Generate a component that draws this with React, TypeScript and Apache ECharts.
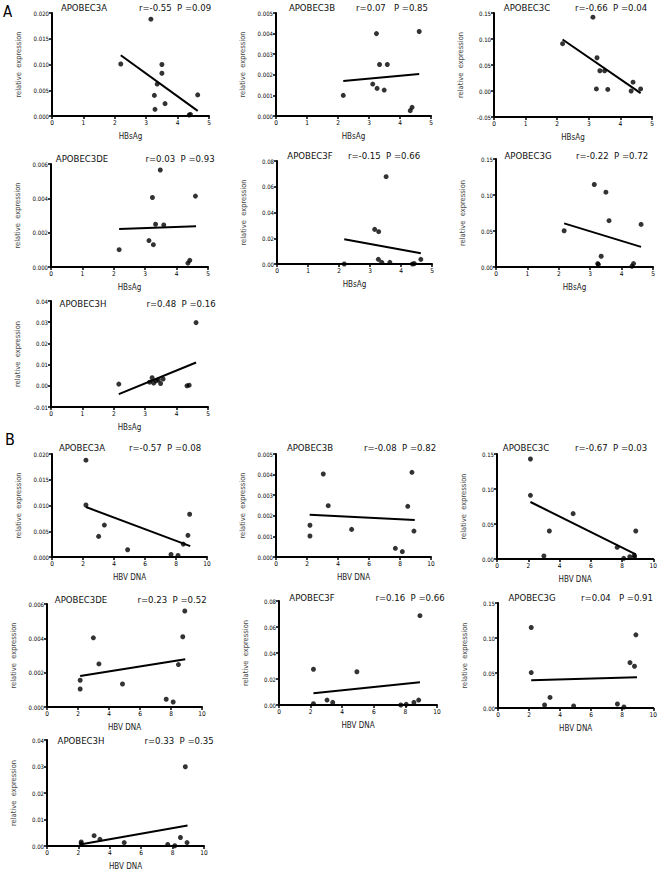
import React, { useEffect, useRef } from "react";
import * as echarts from "echarts";

// ---------- data ----------
const geneNames = ["APOBEC3A", "APOBEC3B", "APOBEC3C", "APOBEC3DE", "APOBEC3F", "APOBEC3G", "APOBEC3H"];
const statsA = ["r=-0.55  P =0.09", "r=0.07   P =0.85", "r=-0.66  P =0.04", "r=0.03  P =0.93", "r=-0.15  P =0.66", "r=-0.22  P =0.72", "r=0.48  P =0.16"];
const statsB = ["r=-0.57  P =0.08", "r=-0.08  P =0.82", "r=-0.67  P =0.03", "r=0.23  P =0.52", "r=0.16  P =0.66", "r=0.04   P =0.91", "r=0.33  P =0.35"];
const xNameA = "HBsAg";
const xNameB = "HBV DNA";
const yName = "relative  expression";

// y-axis ranges per gene: [min, max, interval, decimals]
const yRangesA = [
  [0, 0.02, 0.005, 3],
  [0, 0.005, 0.001, 3],
  [-0.05, 0.15, 0.05, 2],
  [0, 0.006, 0.002, 3],
  [0, 0.08, 0.02, 2],
  [0, 0.15, 0.05, 2],
  [-0.01, 0.04, 0.01, 2],
];
const yRangesB = [
  [0, 0.02, 0.005, 3],
  [0, 0.005, 0.001, 3],
  [0, 0.15, 0.05, 2],
  [0, 0.006, 0.002, 3],
  [0, 0.08, 0.02, 2],
  [0, 0.15, 0.05, 2],
  [0, 0.04, 0.01, 2],
];
const xRangeA = [0, 5, 1];
const xRangeB = [0, 10, 2];

// Panel A: HBsAg
const a3A = [[2.19, 0.0101], [3.15, 0.0188], [3.5, 0.01], [3.5, 0.0083], [3.35, 0.0062], [3.26, 0.004], [3.28, 0.0013], [3.6, 0.0024], [4.37, 0.0002], [4.41, 0.0003], [4.64, 0.0041]];
const a3AFit = [[2.19, 0.0118], [4.64, 0.001]];
const a3B = [[2.17, 0.001], [3.24, 0.004], [3.34, 0.0025], [3.59, 0.0025], [3.12, 0.00155], [3.26, 0.00134], [3.49, 0.00126], [4.33, 0.00026], [4.39, 0.00042], [4.62, 0.0041]];
const a3BFit = [[2.17, 0.0017], [4.62, 0.00204]];
const a3C = [[2.17, 0.091], [3.13, 0.142], [3.26, 0.064], [3.35, 0.039], [3.5, 0.039], [3.24, 0.004], [3.6, 0.003], [4.34, 0.0], [4.4, 0.017], [4.64, 0.004]];
const a3CFit = [[2.17, 0.099], [4.64, -0.004]];
const a3DE = [[2.17, 0.00101], [3.48, 0.00565], [3.23, 0.00405], [4.6, 0.00413], [3.33, 0.00249], [3.59, 0.00245], [3.12, 0.00154], [3.26, 0.0013], [4.36, 0.00023], [4.42, 0.00039]];
const a3DEFit = [[2.17, 0.00222], [4.62, 0.00238]];
const a3F = [[2.17, 0.0], [3.52, 0.0678], [3.15, 0.0269], [3.28, 0.0251], [3.27, 0.0036], [3.38, 0.0013], [3.64, 0.0013], [4.37, 0.0], [4.43, 0.0003], [4.64, 0.0036]];
const a3FFit = [[2.17, 0.0192], [4.64, 0.0083]];
const a3G = [[2.17, 0.0503], [3.13, 0.1146], [3.5, 0.1039], [3.6, 0.0643], [4.62, 0.0592], [3.35, 0.0149], [3.24, 0.0047], [3.26, 0.0033], [4.33, 0.001], [4.38, 0.0047]];
const a3GFit = [[2.17, 0.0606], [4.62, 0.028]];
const a3H = [[2.16, 0.0008], [4.62, 0.0298], [3.22, 0.0038], [3.14, 0.0017], [3.27, 0.0013], [3.35, 0.0024], [3.42, 0.0028], [3.57, 0.0032], [3.49, 0.0011], [4.33, 0.0], [4.4, 0.0003]];
const a3HFit = [[2.16, -0.0039], [4.62, 0.011]];

// Panel B: HBV DNA
const b3A = [[2.19, 0.0188], [2.19, 0.0101], [3.01, 0.004], [3.38, 0.0062], [4.88, 0.0014], [7.68, 0.0005], [8.13, 0.0003], [8.47, 0.0025], [8.77, 0.0042], [8.88, 0.0083]];
const b3AFit = [[2.19, 0.0097], [8.92, 0.0021]];
const b3B = [[2.19, 0.00154], [2.19, 0.00102], [3.05, 0.00403], [3.37, 0.00249], [4.88, 0.00134], [7.7, 0.00042], [8.15, 0.00026], [8.5, 0.00246], [8.77, 0.00411], [8.9, 0.00126]];
const b3BFit = [[2.17, 0.00205], [8.95, 0.0018]];
const b3C = [[2.14, 0.1429], [2.14, 0.091], [3.0, 0.0043], [3.35, 0.04], [4.87, 0.0648], [7.69, 0.0167], [8.11, 0.001], [8.5, 0.0033], [8.79, 0.0052], [8.88, 0.04], [8.8, 0.003]];
const b3CFit = [[2.14, 0.0814], [8.88, 0.0067]];
const b3DE = [[2.14, 0.00156], [2.14, 0.00105], [2.99, 0.00403], [3.35, 0.00251], [4.87, 0.00134], [7.69, 0.00045], [8.14, 0.00029], [8.48, 0.00247], [8.76, 0.00409], [8.89, 0.00559]];
const b3DEFit = [[2.14, 0.00181], [8.92, 0.00278]];
const b3F = [[2.18, 0.0275], [2.18, 0.001], [3.04, 0.0038], [3.4, 0.002], [4.93, 0.0256], [7.71, 0.0], [8.05, 0.0005], [8.54, 0.002], [8.84, 0.0038], [8.92, 0.0687]];
const b3FFit = [[2.18, 0.009], [8.92, 0.0175]];
const b3G = [[2.14, 0.115], [2.14, 0.0506], [3.0, 0.0043], [3.35, 0.0151], [4.87, 0.0028], [7.69, 0.0057], [8.11, 0.0014], [8.5, 0.0648], [8.79, 0.0596], [8.88, 0.1045]];
const b3GFit = [[2.14, 0.0397], [8.95, 0.044]];
const b3H = [[2.18, 0.0015], [2.18, 0.0009], [3.0, 0.0039], [3.37, 0.0025], [4.92, 0.0013], [7.69, 0.0006], [8.14, 0.0001], [8.5, 0.0032], [8.81, 0.0299], [8.92, 0.0013]];
const b3HFit = [[2.1, 0.0006], [8.95, 0.0077]];

const pointsA = [a3A, a3B, a3C, a3DE, a3F, a3G, a3H];
const fitsA = [a3AFit, a3BFit, a3CFit, a3DEFit, a3FFit, a3GFit, a3HFit];
const pointsB = [b3A, b3B, b3C, b3DE, b3F, b3G, b3H];
const fitsB = [b3AFit, b3BFit, b3CFit, b3DEFit, b3FFit, b3GFit, b3HFit];

// ---------- layout (pixels) ----------
// grid: [left, top, width, height]; title & stat: [x, y]
const layoutA = [
  { grid: [52, 13, 157, 103], title: [84, 7], stat: [175, 7] },
  { grid: [276, 13, 155, 103], title: [312, 7], stat: [392, 7] },
  { grid: [494, 13, 158, 104], title: [527, 7], stat: [611, 7] },
  { grid: [51, 164, 157, 103], title: [82, 158], stat: [180, 158] },
  { grid: [277, 161, 155, 103], title: [310, 155], stat: [384, 155] },
  { grid: [496, 159, 157, 108], title: [528, 155], stat: [612, 155] },
  { grid: [51, 301, 157, 106], title: [83, 303], stat: [181, 303] },
];
const layoutB = [
  { grid: [52, 454, 155, 103], title: [82, 447], stat: [165, 447] },
  { grid: [276, 454, 155, 103], title: [310, 447], stat: [400, 447] },
  { grid: [497, 454, 158, 105], title: [526, 447], stat: [611, 447] },
  { grid: [47, 604, 155, 103], title: [81, 599], stat: [172, 599] },
  { grid: [279, 601, 158, 104], title: [312, 597], stat: [410, 597] },
  { grid: [498, 603, 157, 105], title: [532, 597], stat: [617, 597] },
  { grid: [47, 740, 157, 106], title: [81, 740], stat: [179, 740] },
];

const FONT = "'Liberation Sans Narrow', 'DejaVu Sans Condensed', 'Liberation Sans', sans-serif";

function buildOption() {
  const grids: any[] = [];
  const xAxes: any[] = [];
  const yAxes: any[] = [];
  const series: any[] = [];
  const graphics: any[] = [];

  const addPanel = (
    layout: any,
    gene: string,
    stat: string,
    pts: number[][],
    fit: number[][],
    yr: number[],
    xr: number[],
    xName: string
  ) => {
    const i = grids.length;
    const [l, t, w, h] = layout.grid;
    grids.push({ left: l, top: t, width: w, height: h });
    xAxes.push({
      gridIndex: i,
      type: "value",
      min: xr[0],
      max: xr[1],
      interval: xr[2],
      name: xName,
      nameLocation: "middle",
      nameGap: 16,
      nameTextStyle: { fontSize: 8, color: "#222", fontFamily: FONT },
      axisLine: { onZero: false, lineStyle: { color: "#000", width: 2 } },
      axisTick: { length: 3, lineStyle: { color: "#000", width: 1.5 } },
      axisLabel: { fontSize: 6.5, margin: 3, color: "#000", fontFamily: FONT },
      splitLine: { show: false },
    });
    const digits = yr[3];
    yAxes.push({
      gridIndex: i,
      type: "value",
      min: yr[0],
      max: yr[1],
      interval: yr[2],
      name: yName,
      nameLocation: "middle",
      nameGap: 30,
      nameTextStyle: { fontSize: 7.5, color: "#444", fontFamily: FONT },
      axisLine: { show: true, onZero: false, lineStyle: { color: "#000", width: 2 } },
      axisTick: { show: true, length: 3, lineStyle: { color: "#000", width: 1.5 } },
      axisLabel: {
        fontSize: 6,
        margin: 3,
        color: "#000",
        fontFamily: FONT,
        formatter: (v: number) => v.toFixed(digits),
      },
      splitLine: { show: false },
    });
    series.push({
      type: "line",
      xAxisIndex: i,
      yAxisIndex: i,
      data: fit,
      symbol: "none",
      lineStyle: { color: "#000", width: 2 },
      silent: true,
    });
    series.push({
      type: "scatter",
      xAxisIndex: i,
      yAxisIndex: i,
      data: pts,
      symbolSize: 5,
      itemStyle: { color: "#000" },
    });
    graphics.push({
      type: "text",
      x: layout.title[0],
      y: layout.title[1],
      style: { text: gene, fontSize: 9.5, fontFamily: FONT, fill: "#111", align: "center", verticalAlign: "middle" },
    });
    graphics.push({
      type: "text",
      x: layout.stat[0],
      y: layout.stat[1],
      style: { text: stat, fontSize: 9.5, fontFamily: FONT, fill: "#111", align: "center", verticalAlign: "middle" },
    });
  };

  for (let k = 0; k < geneNames.length; k++) {
    addPanel(layoutA[k], geneNames[k], statsA[k], pointsA[k], fitsA[k], yRangesA[k], xRangeA, xNameA);
  }
  for (let k = 0; k < geneNames.length; k++) {
    addPanel(layoutB[k], geneNames[k], statsB[k], pointsB[k], fitsB[k], yRangesB[k], xRangeB, xNameB);
  }

  graphics.push({
    type: "text",
    x: 3,
    y: 4,
    style: { text: "A", fontSize: 15, fontFamily: FONT, fill: "#000" },
  });
  graphics.push({
    type: "text",
    x: 5,
    y: 431,
    style: { text: "B", fontSize: 16, fontFamily: FONT, fill: "#000" },
  });

  return {
    animation: false,
    backgroundColor: "#fff",
    grid: grids,
    xAxis: xAxes,
    yAxis: yAxes,
    series,
    graphic: graphics,
  };
}

export default function App() {
  const ref = useRef<HTMLDivElement>(null);
  useEffect(() => {
    document.body.style.margin = "0";
    if (!ref.current) return;
    const chart = echarts.init(ref.current, undefined, { renderer: "svg" });
    chart.setOption(buildOption() as any);
    return () => chart.dispose();
  }, []);
  return <div ref={ref} style={{ width: 660, height: 871 }} />;
}
